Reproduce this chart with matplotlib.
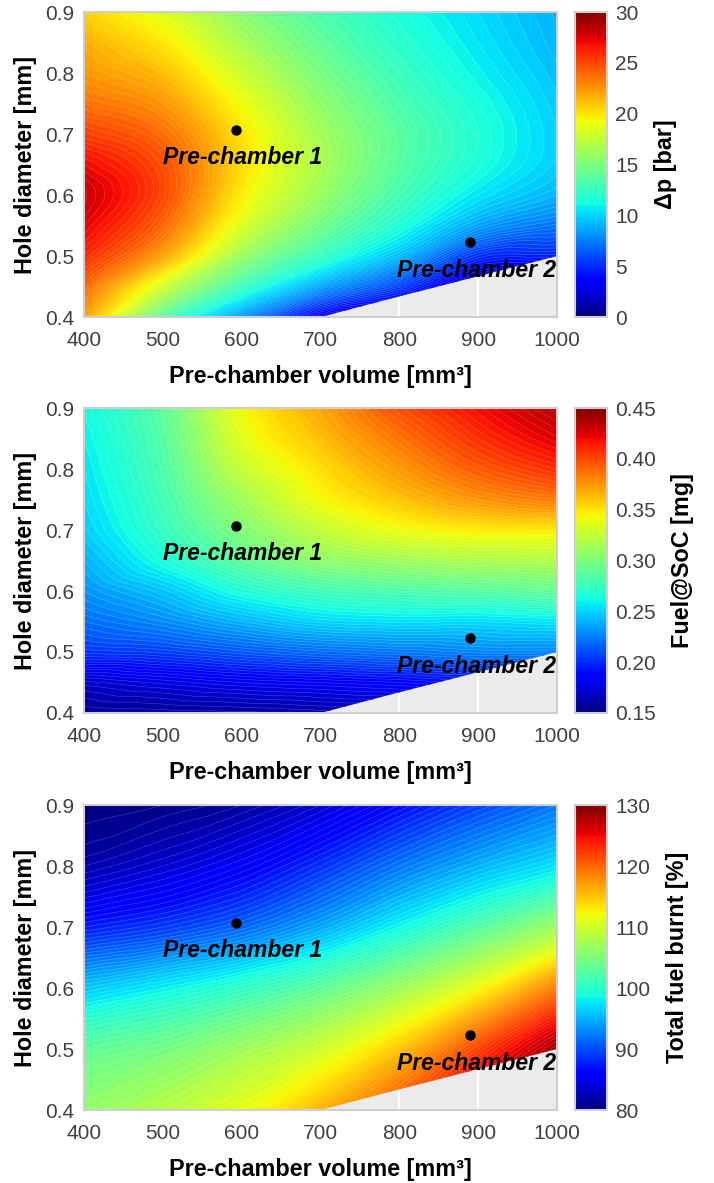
import numpy as np
import matplotlib
matplotlib.use("Agg")
import matplotlib.pyplot as plt
import matplotlib.tri as mtri
from matplotlib.patches import Polygon
from matplotlib.cm import ScalarMappable
from matplotlib.colors import Normalize

plt.rcParams['font.family'] = ['Liberation Sans', 'DejaVu Sans']

# === grid of the response surfaces ===
volume = [400, 500, 600, 700, 800, 900, 1000]
diameter = [0.40, 0.45, 0.50, 0.55, 0.60, 0.65, 0.70, 0.75, 0.80, 0.85, 0.90]

# rows = diameter, columns = volume
dp_bar = [
    [22.0, 13.5, 8.0, 3.0, 1.5, -2.0, -5.0],
    [24.0, 18.0, 12.5, 8.5, 5.5, 1.5, 0.0],
    [26.0, 22.0, 16.0, 12.3, 9.2, 5.0, 4.6],
    [27.3, 24.0, 18.4, 14.6, 11.6, 8.5, 7.1],
    [28.0, 25.0, 19.7, 16.0, 12.9, 10.5, 9.0],
    [27.0, 24.8, 20.2, 16.6, 13.6, 11.5, 9.8],
    [25.3, 23.8, 20.0, 16.4, 13.7, 11.7, 9.9],
    [23.7, 22.5, 19.1, 15.7, 13.2, 11.4, 9.7],
    [22.5, 21.2, 17.9, 14.8, 12.6, 10.9, 9.4],
    [21.7, 19.9, 16.6, 14.0, 12.0, 10.5, 9.1],
    [20.6, 18.5, 15.4, 13.2, 11.5, 10.2, 8.9],
]

fuel_soc = [
    [0.156, 0.157, 0.158, 0.160, 0.162, 0.165, 0.165],
    [0.170, 0.175, 0.180, 0.183, 0.186, 0.190, 0.190],
    [0.202, 0.205, 0.212, 0.218, 0.222, 0.226, 0.226],
    [0.219, 0.228, 0.240, 0.250, 0.253, 0.252, 0.255],
    [0.231, 0.245, 0.265, 0.277, 0.282, 0.285, 0.290],
    [0.240, 0.264, 0.288, 0.305, 0.312, 0.317, 0.319],
    [0.248, 0.274, 0.301, 0.325, 0.340, 0.347, 0.348],
    [0.252, 0.279, 0.313, 0.342, 0.360, 0.375, 0.384],
    [0.255, 0.283, 0.326, 0.352, 0.374, 0.394, 0.408],
    [0.258, 0.286, 0.336, 0.362, 0.386, 0.408, 0.425],
    [0.262, 0.289, 0.342, 0.370, 0.398, 0.419, 0.437],
]

diameter_coarse = [0.4, 0.5, 0.6, 0.7, 0.8, 0.9]
fuel_burnt = [
    [106.5, 108.5, 111.5, 116.0, 121.5, 127.0, 132.0],
    [103.0, 104.5, 107.0, 110.0, 115.0, 122.0, 128.5],
    [96.0, 98.0, 100.3, 103.2, 107.0, 112.0, 119.0],
    [87.5, 89.0, 91.2, 94.5, 98.5, 102.5, 107.0],
    [82.0, 83.5, 85.5, 88.5, 92.0, 95.0, 97.5],
    [80.0, 80.5, 81.5, 83.5, 86.5, 89.5, 92.0],
]

# feasibility limit (lower right corner is not feasible)
limit_volume = [700, 800, 900, 1000]
limit_diameter = [0.400, 0.434, 0.467, 0.500]

# the two pre-chambers
pc_volume = [593, 890]
pc_diameter = [0.707, 0.523]
pc_names = ['Pre-chamber 1', 'Pre-chamber 2']

panels = [
    (diameter, dp_bar, 0, 30, np.arange(0, 31, 5), '{:.0f}', 'Δp [bar]'),
    (diameter, fuel_soc, 0.15, 0.45, np.arange(0.15, 0.451, 0.05), '{:.2f}', 'Fuel@SoC [mg]'),
    (diameter_coarse, fuel_burnt, 80, 130, np.arange(80, 131, 10), '{:.0f}', 'Total fuel burnt [%]'),
]


def smooth_field(vols, dias, z):
    # grid -> triangles, then matplotlib's cubic refiner for smooth contours
    nx, ny = len(vols), len(dias)
    xs, ys = np.meshgrid(np.array(vols) / 100.0, np.array(dias) * 10.0)
    tris = []
    for j in range(ny - 1):
        for i in range(nx - 1):
            k = j * nx + i
            tris.append([k, k + 1, k + nx + 1])
            tris.append([k, k + nx + 1, k + nx])
    tri = mtri.Triangulation(xs.ravel(), ys.ravel(), tris)
    zz = np.array(z, dtype=float).ravel()
    interp = mtri.CubicTriInterpolator(tri, zz, kind='geom')
    tri_f, z_f = mtri.UniformTriRefiner(tri).refine_field(zz, triinterpolator=interp, subdiv=3)
    tri_out = mtri.Triangulation(tri_f.x * 100.0, tri_f.y / 10.0, tri_f.triangles)
    return tri_out, z_f


fig = plt.figure(figsize=(7.14, 11.83), dpi=100)
tick_col = '#404040'
frame_col = '#cfcfcf'
bottoms = [0.732, 0.3973, 0.0617]

for (dia, z, vmin, vmax, cticks, fmt, clabel), bot in zip(panels, bottoms):
    ax = fig.add_axes([0.1176, bot, 0.6625, 0.2578])
    cax = fig.add_axes([0.8053, bot, 0.0448, 0.2578])
    ax.set_facecolor('#ebebeb')
    ax.set_axisbelow(True)
    ax.grid(True, color='white', lw=1.6)

    tri, zf = smooth_field(volume, dia, z)
    levels = np.linspace(vmin, vmax, 101)
    cf = ax.tricontourf(tri, zf, levels=levels, cmap='jet', extend='both')
    cl = ax.tricontour(tri, zf, levels=levels, colors='white', linewidths=0.35, alpha=0.3)

    verts = [(400, 0.9), (400, 0.4)] + list(zip(limit_volume, limit_diameter)) + [(1000, 0.9)]
    clip = Polygon(verts, closed=True, transform=ax.transData, facecolor='none', edgecolor='none')
    ax.add_patch(clip)
    cf.set_clip_path(clip)
    cl.set_clip_path(clip)

    ax.plot(pc_volume, pc_diameter, 'o', color='black', ms=6.5, zorder=5)
    for vx, dy, name in zip(pc_volume, pc_diameter, pc_names):
        ax.text(vx - 93, dy - 0.046, name, ha='left', va='center', fontsize=16.5,
                fontweight='bold', fontstyle='italic', color='black', zorder=6)

    ax.set_xlim(400, 1000)
    ax.set_ylim(0.4, 0.9)
    ax.set_xticks([400, 500, 600, 700, 800, 900, 1000])
    ax.set_yticks([0.4, 0.5, 0.6, 0.7, 0.8, 0.9])
    ax.set_yticklabels(['0.4', '0.5', '0.6', '0.7', '0.8', '0.9'])
    ax.tick_params(length=0, labelsize=15, labelcolor=tick_col)
    ax.tick_params(axis='x', pad=10)
    ax.tick_params(axis='y', pad=7)
    for s in ax.spines.values():
        s.set_color(frame_col)
        s.set_linewidth(1.5)
    ax.set_xlabel('Pre-chamber volume [mm³]', fontsize=16.8, fontweight='bold', labelpad=11)
    ax.set_ylabel('Hole diameter [mm]', fontsize=16.8, fontweight='bold', labelpad=6)

    sm = ScalarMappable(norm=Normalize(vmin, vmax), cmap='jet')
    cb = fig.colorbar(sm, cax=cax, ticks=cticks)
    cb.ax.set_yticklabels([fmt.format(t) for t in cticks])
    cb.ax.tick_params(length=0, labelsize=15, labelcolor=tick_col, pad=6)
    cb.outline.set_edgecolor(frame_col)
    cb.outline.set_linewidth(1.5)
    cb.set_label(clabel, fontsize=16.8, fontweight='bold', labelpad=11)

fig.savefig('out.png', dpi=100)
